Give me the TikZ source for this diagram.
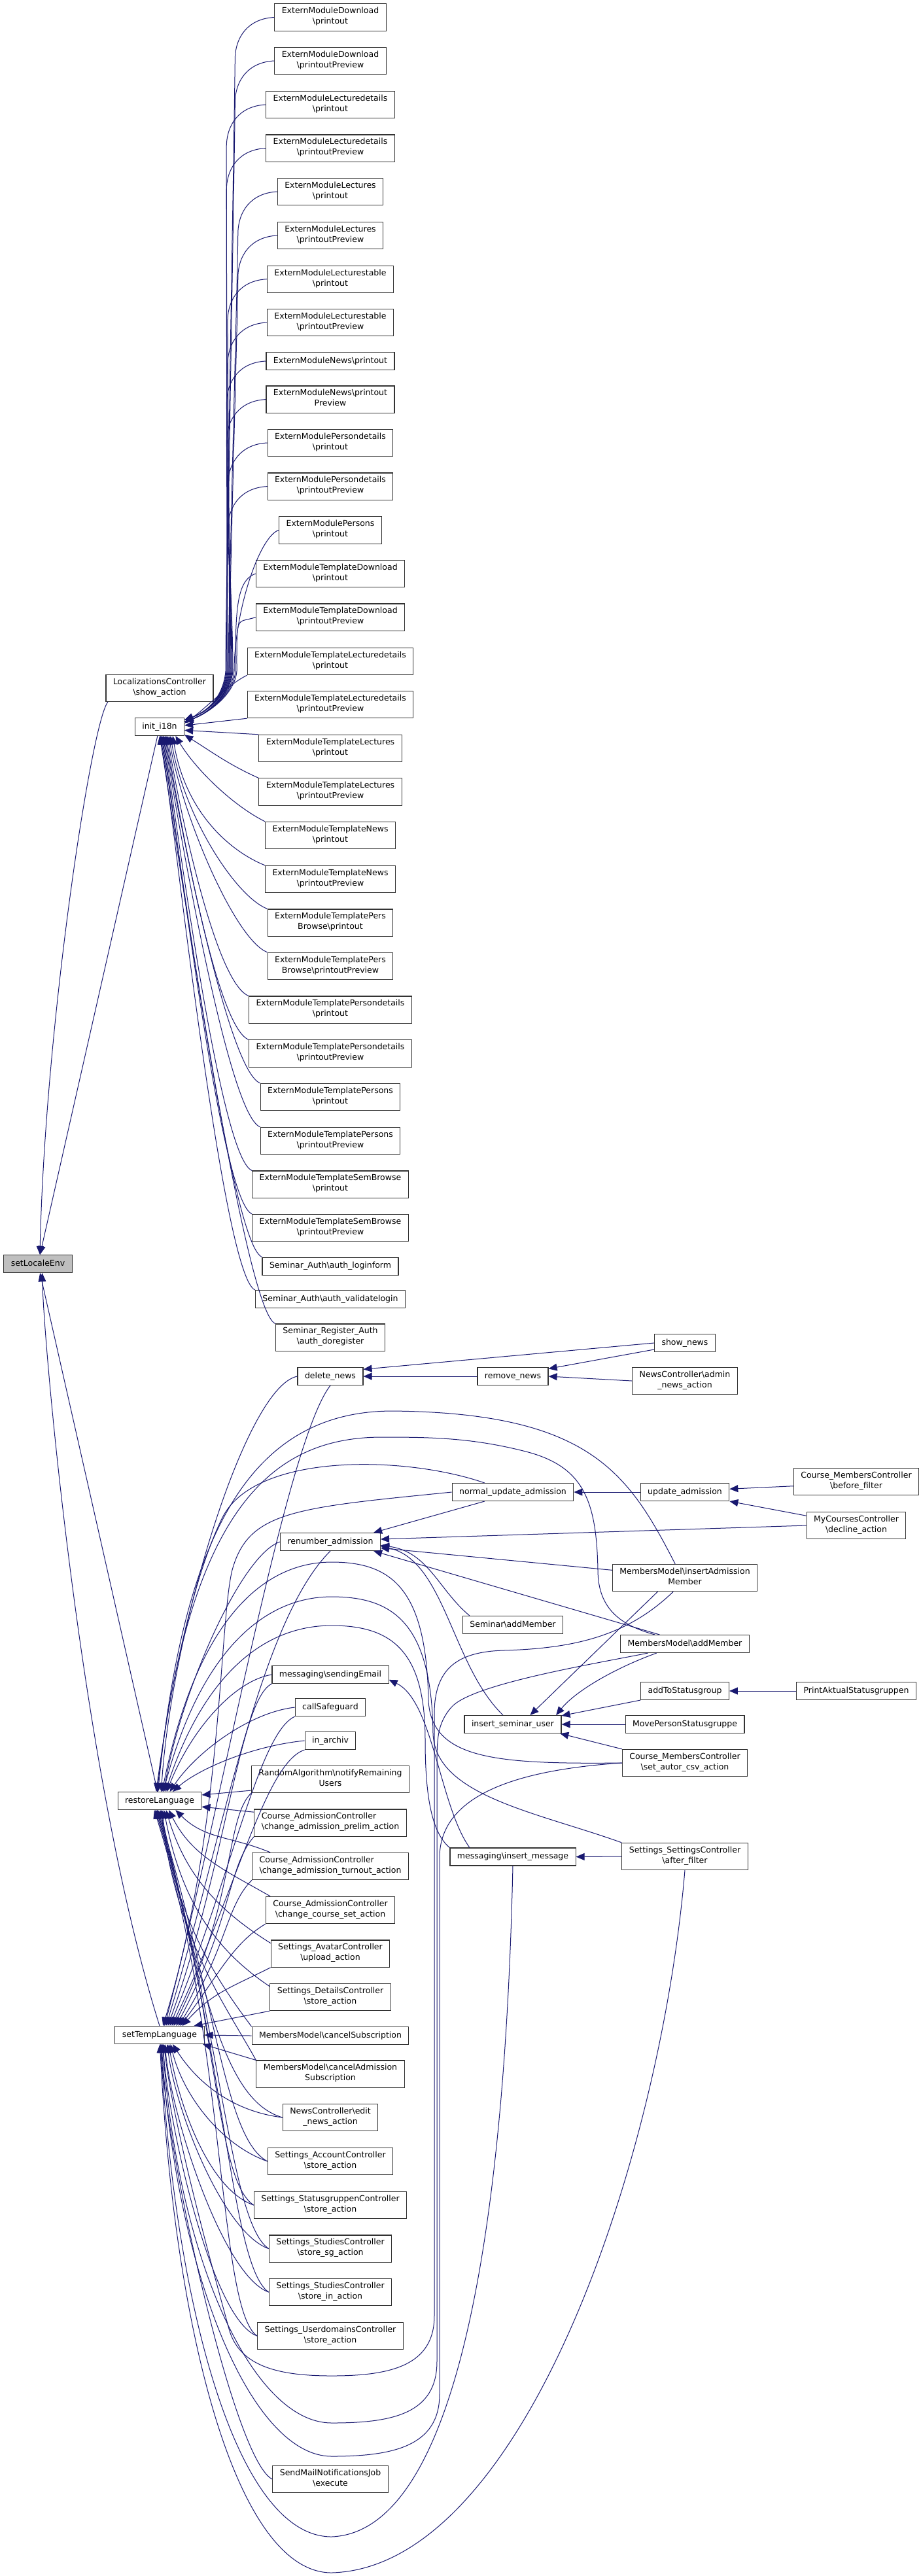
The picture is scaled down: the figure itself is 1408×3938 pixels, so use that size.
\documentclass[tikz,border=0pt]{standalone}
\usepackage{fontspec}
\usepackage{tikz}
\usetikzlibrary{arrows.meta}
\usepackage{xcolor}
\newfontfamily\doxfont{DejaVu Sans}
\newcommand{\bksl}{\textbackslash}
\definecolor{dxblue}{HTML}{191970}

\begin{document}
\begin{tikzpicture}[x=1pt, y=-1pt,
  fn/.style={draw=black!80, line width=1.1pt, fill=white, font=\doxfont\fontsize{12.5}{16}\selectfont,
    align=center, inner xsep=11pt, inner ysep=5.5pt, execute at begin node=\strut, execute at end node=\strut},
  cur/.style={fn, fill=black!25},
  call/.style={draw=dxblue, line width=1pt, -{Triangle[length=13pt,width=11pt]}},
  fanhi/.style={to path={.. controls +(-40,2) and +(0,-35) .. ++(-60,65) .. controls +(0,40) and +(0,-90) .. (#1,1026) .. controls (#1-3,1060) and +(40,-15) .. (\tikztotarget)}},
  fanmid/.style={to path={.. controls +(-30,10) and +(0,-90) .. (#1,1026) .. controls (#1-3,1060) and +(40,-15) .. (\tikztotarget)}},
  fanlo/.style={to path={.. controls +(-50,-20) and +(20,120) .. (\tikztotarget)}}]
  \useasboundingbox (0,0) rectangle (1408,3938);

  \node[cur] (setloc) at (58,1932) {setLocaleEnv};
  \node[fn] (loc) at (244,1052) {LocalizationsController\\\bksl show\_action};
  \node[fn] (init) at (244,1111) {init\_i18n};
  \node[fn] (restore) at (244,2753) {restoreLanguage};
  \node[fn] (temp) at (244,3111) {setTempLanguage};

  \node[fn] (e1) at (505,26.5) {ExternModuleDownload\\\bksl printout};
  \node[fn] (e2) at (505,93) {ExternModuleDownload\\\bksl printoutPreview};
  \node[fn] (e3) at (505,160) {ExternModuleLecturedetails\\\bksl printout};
  \node[fn] (e4) at (505,226.6) {ExternModuleLecturedetails\\\bksl printoutPreview};
  \node[fn] (e5) at (505,293) {ExternModuleLectures\\\bksl printout};
  \node[fn] (e6) at (505,360) {ExternModuleLectures\\\bksl printoutPreview};
  \node[fn] (e7) at (505,426.7) {ExternModuleLecturestable\\\bksl printout};
  \node[fn] (e8) at (505,493) {ExternModuleLecturestable\\\bksl printoutPreview};
  \node[fn] (e9) at (505,552) {ExternModuleNews\bksl printout};
  \node[fn] (e10) at (505,610.6) {ExternModuleNews\bksl printout\\Preview};
  \node[fn] (e11) at (505,677) {ExternModulePersondetails\\\bksl printout};
  \node[fn] (e12) at (505,743.6) {ExternModulePersondetails\\\bksl printoutPreview};
  \node[fn] (e13) at (505,810.4) {ExternModulePersons\\\bksl printout};
  \node[fn] (e14) at (505,877) {ExternModuleTemplateDownload\\\bksl printout};
  \node[fn] (e15) at (505,943.6) {ExternModuleTemplateDownload\\\bksl printoutPreview};
  \node[fn] (e16) at (505,1011) {ExternModuleTemplateLecturedetails\\\bksl printout};
  \node[fn] (e17) at (505,1077) {ExternModuleTemplateLecturedetails\\\bksl printoutPreview};
  \node[fn] (e18) at (505,1144) {ExternModuleTemplateLectures\\\bksl printout};
  \node[fn] (e19) at (505,1210.5) {ExternModuleTemplateLectures\\\bksl printoutPreview};
  \node[fn] (e20) at (505,1277) {ExternModuleTemplateNews\\\bksl printout};
  \node[fn] (e21) at (505,1344) {ExternModuleTemplateNews\\\bksl printoutPreview};
  \node[fn] (e22) at (505,1410.6) {ExternModuleTemplatePers\\Browse\bksl printout};
  \node[fn] (e23) at (505,1477) {ExternModuleTemplatePers\\Browse\bksl printoutPreview};
  \node[fn] (e24) at (505,1543.6) {ExternModuleTemplatePersondetails\\\bksl printout};
  \node[fn] (e25) at (505,1610.5) {ExternModuleTemplatePersondetails\\\bksl printoutPreview};
  \node[fn] (e26) at (505,1677) {ExternModuleTemplatePersons\\\bksl printout};
  \node[fn] (e27) at (505,1744) {ExternModuleTemplatePersons\\\bksl printoutPreview};
  \node[fn] (e28) at (505,1810.6) {ExternModuleTemplateSemBrowse\\\bksl printout};
  \node[fn] (e29) at (505,1877) {ExternModuleTemplateSemBrowse\\\bksl printoutPreview};
  \node[fn] (e30) at (505,1935.6) {Seminar\_Auth\bksl auth\_loginform};
  \node[fn] (e31) at (505,1986) {Seminar\_Auth\bksl auth\_validatelogin};
  \node[fn] (e32) at (505,2044.6) {Seminar\_Register\_Auth\\\bksl auth\_doregister};

  \node[fn] (dnews) at (505,2104) {delete\_news};
  \node[fn] (renum) at (505,2357) {renumber\_admission};
  \node[fn] (sendmail) at (505,2560) {messaging\bksl sendingEmail};
  \node[fn] (safeg) at (505,2610) {callSafeguard};
  \node[fn] (archiv) at (505,2661) {in\_archiv};
  \node[fn] (randalg) at (505,2720) {RandomAlgorithm\bksl notifyRemaining\\Users};
  \node[fn, align=left] (prelim) at (505,2786.6) {Course\_AdmissionController\\\bksl change\_admission\_prelim\_action};
  \node[fn, align=left] (turnout) at (505,2853) {Course\_AdmissionController\\\bksl change\_admission\_turnout\_action};
  \node[fn] (cset) at (505,2920) {Course\_AdmissionController\\\bksl change\_course\_set\_action};
  \node[fn] (avatar) at (505,2986.6) {Settings\_AvatarController\\\bksl upload\_action};
  \node[fn] (details) at (505,3053) {Settings\_DetailsController\\\bksl store\_action};
  \node[fn] (cancsub) at (505,3112) {MembersModel\bksl cancelSubscription};
  \node[fn] (cancadm) at (505,3170.6) {MembersModel\bksl cancelAdmission\\Subscription};
  \node[fn] (editnews) at (505,3237) {NewsController\bksl edit\\\_news\_action};
  \node[fn] (account) at (505,3304) {Settings\_AccountController\\\bksl store\_action};
  \node[fn] (statgr) at (505,3371) {Settings\_StatusgruppenController\\\bksl store\_action};
  \node[fn] (studsg) at (505,3437.6) {Settings\_StudiesController\\\bksl store\_sg\_action};
  \node[fn] (studin) at (505,3504) {Settings\_StudiesController\\\bksl store\_in\_action};
  \node[fn] (udom) at (505,3571) {Settings\_UserdomainsController\\\bksl store\_action};
  \node[fn] (mailjob) at (505,3790) {SendMailNotificationsJob\\\bksl execute};

  \node[fn] (rnews) at (784,2104) {remove\_news};
  \node[fn] (nupd) at (784,2281) {normal\_update\_admission};
  \node[fn] (semadd) at (784,2484) {Seminar\bksl addMember};
  \node[fn] (insuser) at (784,2636) {insert\_seminar\_user};
  \node[fn] (insmsg) at (784,2838.5) {messaging\bksl insert\_message};

  \node[fn] (shownews) at (1047,2053) {show\_news};
  \node[fn] (adminnews) at (1047,2111) {NewsController\bksl admin\\\_news\_action};
  \node[fn] (upd) at (1047,2281) {update\_admission};
  \node[fn] (insadm) at (1047,2412) {MembersModel\bksl insertAdmission\\Member};
  \node[fn] (addmem) at (1047,2513) {MembersModel\bksl addMember};
  \node[fn] (addsg) at (1047,2585) {addToStatusgroup};
  \node[fn] (movep) at (1047,2636) {MovePersonStatusgruppe};
  \node[fn] (csv) at (1047,2695) {Course\_MembersController\\\bksl set\_autor\_csv\_action};
  \node[fn] (afterf) at (1047,2838) {Settings\_SettingsController\\\bksl after\_filter};

  \node[fn] (beforef) at (1309,2265) {Course\_MembersController\\\bksl before\_filter};
  \node[fn] (decline) at (1309,2332) {MyCoursesController\\\bksl decline\_action};
  \node[fn] (printsg) at (1309,2585) {PrintAktualStatusgruppen};

  % setLocaleEnv
  \draw[call] (loc.-165) .. controls +(-25,30) and +(8,-350) .. (setloc.78);
  \draw[call] (init) -- (setloc);
  \draw[call] (restore) -- (setloc);
  \draw[call] (temp.north) .. controls +(-120,-380) and +(2,105) .. (setloc.-65);

  % init_i18n
  \draw[call] (e1.west) to[fanhi=345] (init.15);
  \draw[call] (e2.west) to[fanhi=346] (init.15);
  \draw[call] (e3.west) to[fanhi=347] (init.15);
  \draw[call] (e4.west) to[fanhi=348] (init.15);
  \draw[call] (e5.west) to[fanhi=349] (init.15);
  \draw[call] (e6.west) to[fanhi=350] (init.15);
  \draw[call] (e7.west) to[fanhi=351] (init.15);
  \draw[call] (e8.west) to[fanhi=352] (init.15);
  \draw[call] (e9.west) to[fanhi=353] (init.11);
  \draw[call] (e10.west) to[fanhi=354] (init.11);
  \draw[call] (e11.west) to[fanhi=355] (init.11);
  \draw[call] (e12.west) to[fanhi=356] (init.11);
  \draw[call] (e13.west) to[fanmid=358] (init.11);
  \draw[call] (e14.west) to[fanmid=360] (init.11);
  \draw[call] (e15.west) to[fanmid=362] (init.11);
  \draw[call] (e16.south west) .. controls +(-30,15) and +(35,-25) .. (init.8);
  \draw[call] (e17.south west) -- (init.3);
  \draw[call] (e18.north west) -- (init.-8);
  \draw[call] (e19.north west) .. controls +(-45,-20) and +(40,25) .. (init.-18);
  \draw[call] (e20.north west) .. controls +(-50,-25) and +(30,50) .. (init.-30);
  \draw[call] (e21.north west) to[fanlo] (init.-35);
  \draw[call] (e22.north west) to[fanlo] (init.-40);
  \draw[call] (e23.north west) to[fanlo] (init.-45);
  \draw[call] (e24.north west) to[fanlo] (init.-50);
  \draw[call] (e25.north west) to[fanlo] (init.-55);
  \draw[call] (e26.north west) to[fanlo] (init.-60);
  \draw[call] (e27.north west) to[fanlo] (init.-65);
  \draw[call] (e28.north west) to[fanlo] (init.-70);
  \draw[call] (e29.north west) to[fanlo] (init.-75);
  \draw[call] (e30.north west) to[fanlo] (init.-80);
  \draw[call] (e31.north west) to[fanlo] (init.-85);
  \draw[call] (e32.north west) to[fanlo] (init.-90);

  % restoreLanguage / setTempLanguage
  \draw[call] (dnews.west) .. controls +(-80,16) and +(15,-240) .. (restore.80);
  \draw[call] (dnews.south) .. controls +(-70,90) and +(80,-300) .. (temp.62);
  \draw[call] (renum.west) .. controls +(-60,20) and +(25,-150) .. (restore.65);
  \draw[call] (renum.south) .. controls +(-110,110) and +(85,-280) .. (temp.55);
  \draw[call] (sendmail.west) .. controls +(-60,10) and +(35,-90) .. (restore.52);
  \draw[call] (sendmail.south west) .. controls +(-50,25) and +(90,-250) .. (temp.48);
  \draw[call] (safeg.west) .. controls +(-70,8) and +(40,-60) .. (restore.42);
  \draw[call] (safeg.south west) .. controls +(-55,25) and +(95,-230) .. (temp.42);
  \draw[call] (archiv.west) .. controls +(-80,8) and +(40,-35) .. (restore.35);
  \draw[call] (archiv.south west) .. controls +(-60,20) and +(100,-210) .. (temp.37);
  \draw[call] (randalg.-172) -- (restore.8);
  \draw[call] (randalg.south west) .. controls +(-40,40) and +(95,-190) .. (temp.33);
  \draw[call] (prelim.172) -- (restore.-8);
  \draw[call] (prelim.south west) .. controls +(-40,45) and +(85,-160) .. (temp.29);
  \draw[call] (turnout.167) .. controls +(-60,-25) and +(45,45) .. (restore.-30);
  \draw[call] (turnout.south west) .. controls +(-40,40) and +(75,-120) .. (temp.26);
  \draw[call] (cset.167) .. controls +(-70,-40) and +(35,70) .. (restore.-45);
  \draw[call] (cset.south west) .. controls +(-50,30) and +(60,-80) .. (temp.24);
  \draw[call] (avatar.170) .. controls +(-80,-50) and +(30,100) .. (restore.-55);
  \draw[call] (avatar.south west) .. controls +(-60,30) and +(45,-50) .. (temp.22);
  \draw[call] (details.170) .. controls +(-90,-60) and +(25,130) .. (restore.-65);
  \draw[call] (details.south west) -- (temp.15);
  \draw[call] (cancsub.north west) .. controls +(-45,-60) and +(20,170) .. (restore.-75);
  \draw[call] (cancsub.west) -- (temp.east);
  \draw[call] (cancadm.north west) .. controls +(-50,-90) and +(25,200) .. (restore.-82);
  \draw[call] (cancadm.north west) -- (temp.-12);
  \draw[call] (editnews.west) .. controls +(-85,-25) and +(70,300) .. (restore.-87);
  \draw[call] (editnews.west) .. controls +(-80,-10) and +(35,55) .. (temp.-35);
  \draw[call] (account.west) .. controls +(-65,-35) and +(90,300) .. (restore.-100);
  \draw[call] (account.west) .. controls +(-70,-25) and +(20,80) .. (temp.-40);
  \draw[call] (statgr.west) .. controls +(-60,-40) and +(95,320) .. (restore.-105);
  \draw[call] (statgr.west) .. controls +(-70,-25) and +(15,90) .. (temp.-45);
  \draw[call] (studsg.west) .. controls +(-60,-40) and +(100,330) .. (restore.-110);
  \draw[call] (studsg.west) .. controls +(-70,-25) and +(12,100) .. (temp.-50);
  \draw[call] (studin.west) .. controls +(-60,-40) and +(105,340) .. (restore.-115);
  \draw[call] (studin.west) .. controls +(-70,-25) and +(10,110) .. (temp.-60);
  \draw[call] (udom.west) .. controls +(-60,-40) and +(110,350) .. (restore.-120);
  \draw[call] (udom.west) .. controls +(-70,-25) and +(8,120) .. (temp.-70);
  \draw[call] (mailjob.west) .. controls +(-60,-30) and +(5,150) .. (temp.-80);

  \draw[call] (nupd.162) .. controls (620,2225) and (390,2220) .. (340,2320) .. controls (300,2400) and (262,2560) .. (restore.110);
  \draw[call] (nupd.west) .. controls (450,2305) and (380,2310) .. (355,2400) .. controls (335,2480) and (340,2800) .. (temp.70);
  \draw[call] (insadm.125) .. controls (960,2250) and (900,2160) .. (600,2157) .. controls (380,2157) and (280,2350) .. (restore.100);
  \draw[call] (addmem.163) .. controls (950,2485) and (914,2460) .. (914,2400) .. controls (912,2290) and (890,2240) .. (800,2218) .. controls (720,2198) and (660,2197) .. (584,2197) .. controls (420,2197) and (290,2300) .. (restore.105);
  \draw[call] (csv.west) .. controls (760,2697) and (660,2690) .. (655,2600) .. controls (652,2430) and (600,2388) .. (507,2388) .. controls (400,2388) and (300,2480) .. (restore.75);
  \draw[call] (afterf.north west) .. controls (820,2770) and (665,2745) .. (662,2650) .. controls (660,2480) and (600,2441) .. (507,2441) .. controls (400,2441) and (305,2530) .. (restore.68);
  \draw[call] (insmsg.north west) .. controls (664,2805) and (650,2760) .. (650,2660) .. controls (650,2525) and (600,2485) .. (507,2485) .. controls (400,2485) and (310,2565) .. (restore.58);
  \draw[call] (insadm.-130) .. controls (960,2500) and (880,2520) .. (770,2523) .. controls (700,2525) and (664,2550) .. (664,2620) -- (664,3540) .. controls (664,3615) and (600,3632) .. (507,3632) .. controls (420,3632) and (365,3615) .. (350,3560) .. controls (320,3450) and (265,3250) .. (temp.-65);
  \draw[call] (addmem.-166) .. controls (900,2545) and (720,2575) .. (690,2610) .. controls (668,2635) and (668,2660) .. (668,2700) -- (668,3610) .. controls (668,3690) and (600,3704) .. (507,3704) .. controls (385,3704) and (272,3450) .. (temp.-72);
  \draw[call] (csv.west) .. controls (800,2705) and (672,2740) .. (672,2840) -- (672,3660) .. controls (672,3740) and (600,3755) .. (507,3755) .. controls (385,3755) and (270,3480) .. (temp.-78);
  \draw[call] (insmsg.south) .. controls (772,3400) and (700,3870) .. (507,3878) .. controls (360,3878) and (268,3520) .. (temp.-84);
  \draw[call] (afterf.south) .. controls (1010,3300) and (800,3925) .. (507,3933) .. controls (360,3933) and (266,3560) .. (temp.-88);

  % other callers
  \draw[call] (shownews.west) -- (dnews.12);
  \draw[call] (shownews.-168) -- (rnews.12);
  \draw[call] (rnews.west) -- (dnews.east);
  \draw[call] (adminnews.west) -- (rnews.east);
  \draw[call] (upd.west) -- (nupd.east);
  \draw[call] (beforef.-176) -- (upd.4);
  \draw[call] (decline.169) -- (upd.south east);
  \draw[call] (decline.west) -- (renum.3);
  \draw[call] (nupd.-162) -- (renum.12);
  \draw[call] (insadm.174) -- (renum.-7);
  \draw[call] (addmem.160) -- (renum.-12);
  \draw[call] (semadd.168) .. controls (670,2430) and (655,2372) .. (renum.-4);
  \draw[call] (insuser.137) .. controls (690,2545) and (680,2385) .. (renum.-5);
  \draw[call] (insadm.-153) -- (insuser.28);
  \draw[call] (addmem.-162) .. controls (940,2550) and (880,2585) .. (insuser.12);
  \draw[call] (addsg.south west) -- (insuser.10);
  \draw[call] (printsg.west) -- (addsg.east);
  \draw[call] (movep.west) -- (insuser.east);
  \draw[call] (csv.north west) -- (insuser.-11);
  \draw[call] (insmsg.168) .. controls (672,2760) and (662,2600) .. (sendmail.-5);
  \draw[call] (afterf.west) -- (insmsg.east);
\end{tikzpicture}
\end{document}
